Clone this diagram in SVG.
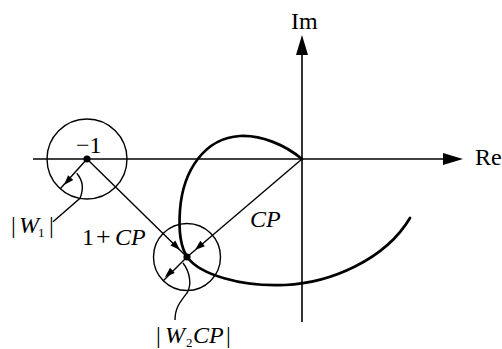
<svg xmlns="http://www.w3.org/2000/svg" xmlns:xlink="http://www.w3.org/1999/xlink" width="502" height="349" viewBox="0 0 502 349">
<style>
.ln{stroke:#000;stroke-width:1.4;fill:none}
.ax{stroke:#000;stroke-width:1.6;fill:none}
.cv{stroke:#000;stroke-width:2.7;fill:none;stroke-linecap:round}
.t{font-family:"Liberation Serif","Times New Roman",serif;font-size:24px;fill:#000}
.i{font-style:italic}
.s{font-size:13px}
</style>
<defs>
<path id="ah" d="M0 0 L-10 -3.5 L-10 3.5 Z" fill="#000"/>
<path id="axh" d="M0 0 L-20 -6 L-20 6 Z" fill="#000"/>
</defs>
<rect width="502" height="349" fill="#fff"/>
<g id="axes">
<line class="ax" x1="33" y1="159" x2="450" y2="159"/>
<use xlink:href="#axh" transform="translate(463,159)"/>
<line class="ax" x1="302" y1="322" x2="302" y2="50"/>
<use xlink:href="#axh" transform="translate(302,35) rotate(-90)"/>
<text class="t" x="475" y="165">Re</text>
<text class="t" x="291" y="29">Im</text>
</g>
<g id="curve">
<path class="cv" d="M302 159 C285 145 262 135 240 136 C205 138 183 170 180 210 C178.2 234 182 250 188 258 C200 274 240 287 285 285 C330 283 385 260 410 218"/>
</g>
<g id="node-minus1">
<circle class="ln" cx="87" cy="159" r="40"/>
<circle cx="87" cy="159" r="3.6" fill="#000"/>
<text class="t" x="76" y="153">−1</text>
</g>
<g id="node-1cp">
<circle class="ln" cx="187" cy="257" r="33.5"/>
<circle cx="187" cy="257" r="3.6" fill="#000"/>
</g>
<g id="connectors">
<line class="ln" x1="87" y1="159" x2="187" y2="257"/>
<use xlink:href="#ah" transform="translate(180,250) rotate(44.4)"/>
<line class="ln" x1="302" y1="159" x2="187" y2="257"/>
<use xlink:href="#ah" transform="translate(195,250) rotate(139.6)"/>
<line class="ln" x1="87" y1="159" x2="60" y2="189"/>
<use xlink:href="#ah" transform="translate(64,185) rotate(132)"/>
<line class="ln" x1="187" y1="257" x2="163" y2="281"/>
<use xlink:href="#ah" transform="translate(165,277) rotate(138)"/>
<path class="ln" d="M76.7 173.3 Q86 184 80 198.3 L53 221.7"/>
<path class="ln" d="M183 263 C190 272 192 285 187 293 C180 302 175 308 175 320"/>
</g>
<g id="labels">
<text class="t" x="11" y="233">|<tspan class="i" x="19">W</tspan><tspan class="s" x="38" dy="4">1</tspan><tspan x="49" dy="-4">|</tspan></text>
<text class="t" x="82" y="245">1<tspan x="96" font-size="26">+</tspan><tspan class="i" x="115">CP</tspan></text>
<text class="t i" x="250" y="227">CP</text>
<text class="t" x="156" y="343">|<tspan class="i" x="165">W</tspan><tspan class="s" x="186" dy="4">2</tspan><tspan class="i" x="193" dy="-4">CP</tspan><tspan x="226">|</tspan></text>
</g>
</svg>
